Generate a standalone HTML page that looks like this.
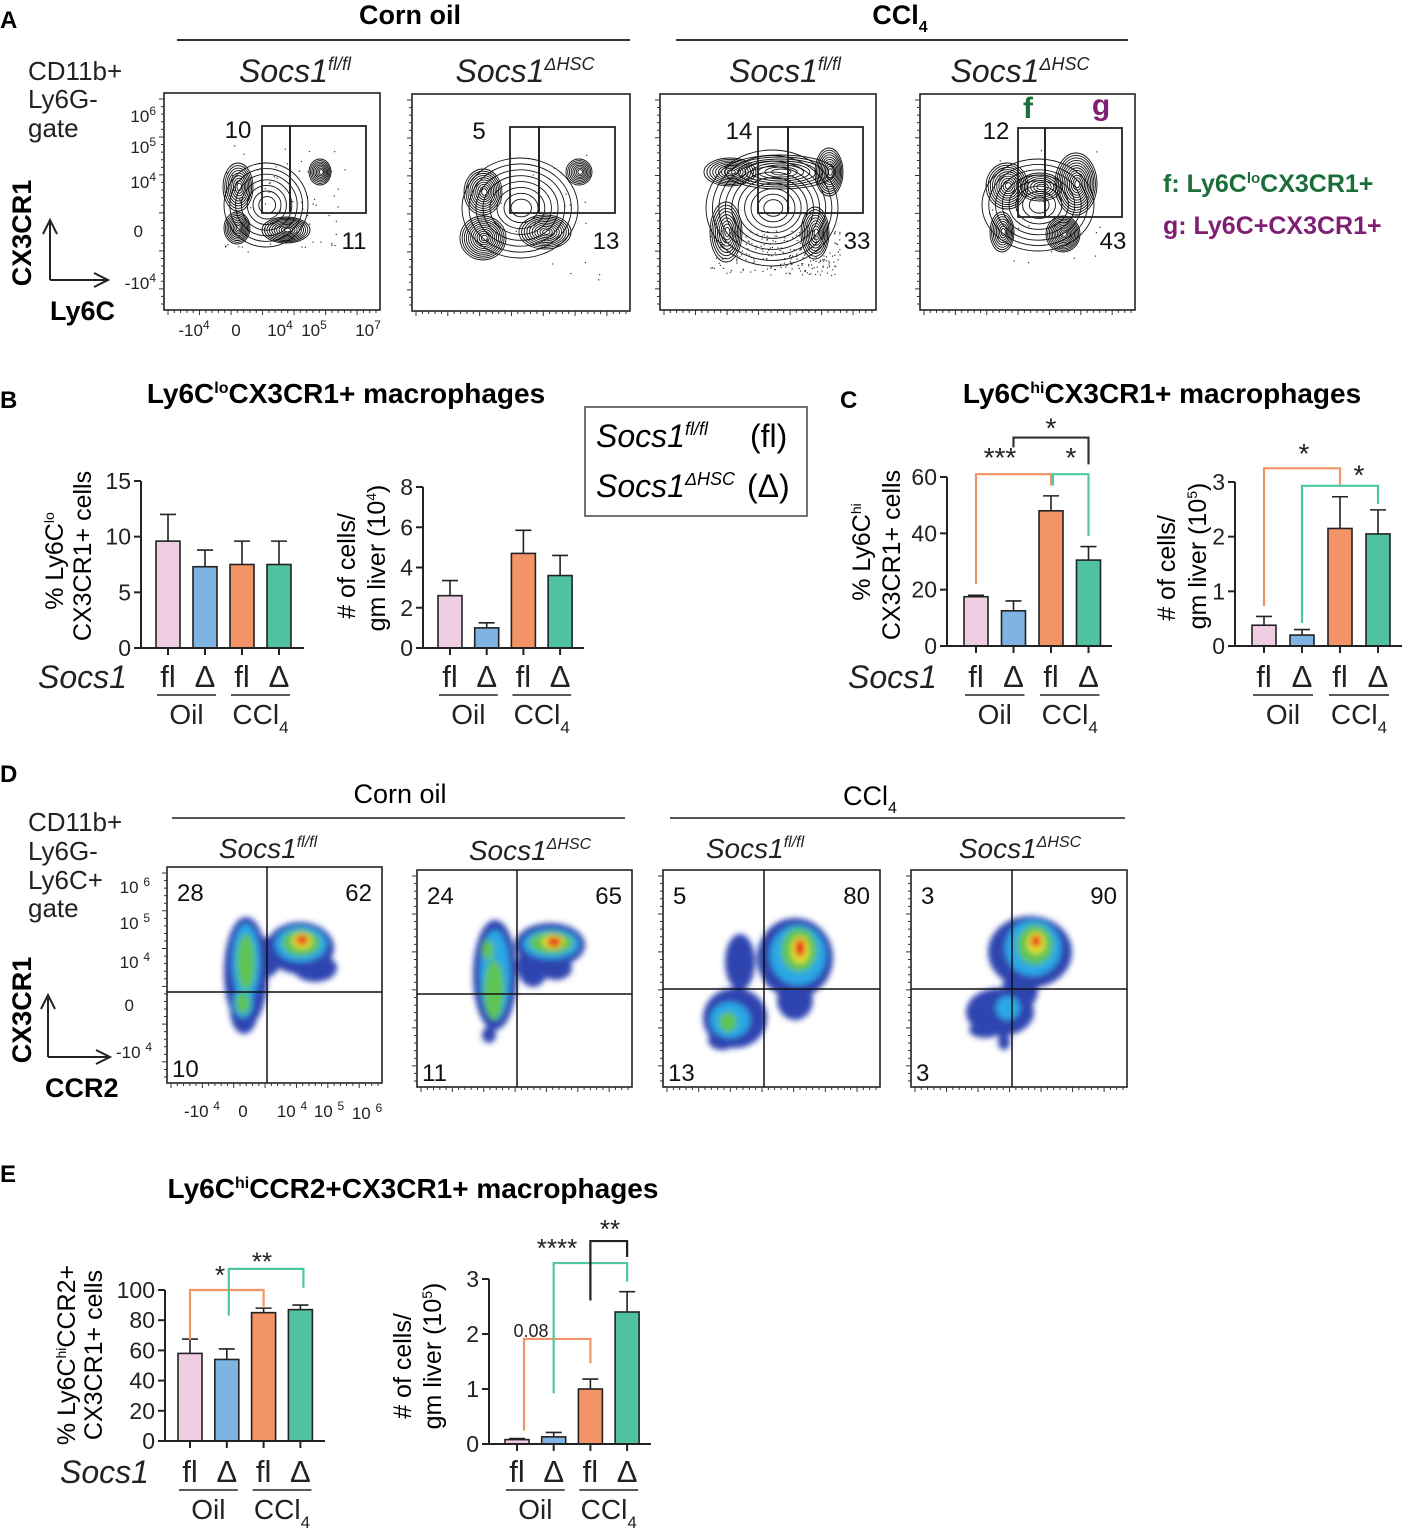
<!DOCTYPE html>
<html><head><meta charset="utf-8"><title>Socs1 figure</title>
<style>
html,body{margin:0;padding:0;background:#fff;}
svg{display:block;font-family:"Liberation Sans",Arial,sans-serif;}
.b{font-weight:bold;}
.i{font-style:italic;}
</style></head>
<body>
<svg id="fig" width="1417" height="1533" viewBox="0 0 1417 1533" xmlns="http://www.w3.org/2000/svg">
<defs>
<filter id="blur" x="-20%" y="-20%" width="140%" height="140%"><feGaussianBlur stdDeviation="3"/></filter>
<clipPath id="cd1"><rect x="167" y="867" width="215" height="216"/></clipPath>
<clipPath id="cd2"><rect x="417" y="870" width="215" height="217"/></clipPath>
<clipPath id="cd3"><rect x="663" y="870" width="217" height="217"/></clipPath>
<clipPath id="cd4"><rect x="911" y="870" width="216" height="217"/></clipPath>
</defs>

<!-- ============ PANEL A ============ -->
<text x="0" y="28" font-size="24" class="b">A</text>
<text x="410" y="24" font-size="27" class="b" text-anchor="middle">Corn oil</text>
<line x1="177" y1="40" x2="630" y2="40" stroke="#333" stroke-width="2"/>
<text x="900" y="24" font-size="27" class="b" text-anchor="middle">CCl<tspan font-size="16" dy="8">4</tspan></text>
<line x1="676" y1="40" x2="1128" y2="40" stroke="#333" stroke-width="2"/>
<g font-size="32" class="i" text-anchor="middle" fill="#222">
<text x="295" y="82">Socs1<tspan font-size="18" dy="-12">fl/fl</tspan></text>
<text x="525" y="82">Socs1<tspan font-size="18" dy="-12">ΔHSC</tspan></text>
<text x="785" y="82">Socs1<tspan font-size="18" dy="-12">fl/fl</tspan></text>
<text x="1020" y="82">Socs1<tspan font-size="18" dy="-12">ΔHSC</tspan></text>
</g>
<g font-size="26" fill="#222">
<text x="28" y="80">CD11b+</text>
<text x="28" y="108">Ly6G-</text>
<text x="28" y="137">gate</text>
</g>
<text transform="translate(31,233) rotate(-90)" font-size="27" class="b" text-anchor="middle">CX3CR1</text>
<path d="M50 280 V222 M43 234 L50 220 L57 234 M50 280 H106 M94 273 L108 280 L94 287" stroke="#222" stroke-width="2" fill="none"/>
<text x="50" y="320" font-size="27" class="b">Ly6C</text>
<g font-size="17" fill="#222" text-anchor="end">
<text x="156" y="122">10<tspan font-size="12" dy="-7">6</tspan></text>
<text x="156" y="153">10<tspan font-size="12" dy="-7">5</tspan></text>
<text x="156" y="188">10<tspan font-size="12" dy="-7">4</tspan></text>
<text x="143" y="237">0</text>
<text x="156" y="289">-10<tspan font-size="12" dy="-7">4</tspan></text>
</g>
<g font-size="17" fill="#222" text-anchor="middle">
<text x="194" y="336">-10<tspan font-size="12" dy="-7">4</tspan></text>
<text x="236" y="336">0</text>
<text x="280" y="336">10<tspan font-size="12" dy="-7">4</tspan></text>
<text x="314" y="336">10<tspan font-size="12" dy="-7">5</tspan></text>
<text x="368" y="336">10<tspan font-size="12" dy="-7">7</tspan></text>
</g>
<g id="flowA"></g>
<text x="1163" y="192" font-size="25" class="b" fill="#1b6e3a">f: Ly6C<tspan font-size="15" dy="-9">lo</tspan><tspan dy="9">CX3CR1+</tspan></text>
<text x="1163" y="234" font-size="25" class="b" fill="#7e1f74">g: Ly6C+CX3CR1+</text>

<!-- ============ PANEL B ============ -->
<text x="0" y="408" font-size="24" class="b">B</text>
<text x="346" y="403" font-size="28" class="b" text-anchor="middle">Ly6C<tspan font-size="16" dy="-10">lo</tspan><tspan dy="10">CX3CR1+ macrophages</tspan></text>
<text transform="translate(63,561) rotate(-90)" font-size="25" text-anchor="middle">% Ly6C<tspan font-size="14" dy="-9">lo</tspan></text>
<text transform="translate(91,556) rotate(-90)" font-size="25" text-anchor="middle">CX3CR1+ cells</text>
<text transform="translate(355,566) rotate(-90)" font-size="25" text-anchor="middle"># of cells/</text>
<text transform="translate(385,558) rotate(-90)" font-size="25" text-anchor="middle">gm liver (10<tspan font-size="14" dy="-9">4</tspan><tspan dy="9">)</tspan></text>
<text x="38" y="688" font-size="32" class="i" fill="#222">Socs1</text>
<g id="chartB1"></g>
<g id="chartB2"></g>
<rect x="585" y="407" width="222" height="109" fill="none" stroke="#444" stroke-width="1.5"/>
<text x="596" y="447" font-size="32" class="i">Socs1<tspan font-size="18" dy="-12">fl/fl</tspan></text>
<text x="750" y="447" font-size="32">(fl)</text>
<text x="596" y="497" font-size="32" class="i">Socs1<tspan font-size="18" dy="-12">ΔHSC</tspan></text>
<text x="747" y="497" font-size="32">(Δ)</text>

<!-- ============ PANEL C ============ -->
<text x="840" y="408" font-size="24" class="b">C</text>
<text x="1162" y="403" font-size="28" class="b" text-anchor="middle">Ly6C<tspan font-size="16" dy="-10">hi</tspan><tspan dy="10">CX3CR1+  macrophages</tspan></text>
<text transform="translate(870,552) rotate(-90)" font-size="25" text-anchor="middle">% Ly6C<tspan font-size="14" dy="-9">hi</tspan></text>
<text transform="translate(900,555) rotate(-90)" font-size="25" text-anchor="middle">CX3CR1+ cells</text>
<text transform="translate(1175,568) rotate(-90)" font-size="25" text-anchor="middle"># of cells/</text>
<text transform="translate(1206,556) rotate(-90)" font-size="25" text-anchor="middle">gm liver (10<tspan font-size="14" dy="-9">5</tspan><tspan dy="9">)</tspan></text>
<text x="848" y="688" font-size="32" class="i" fill="#222">Socs1</text>
<g id="chartC1"></g>
<g id="chartC2"></g>

<!-- ============ PANEL D ============ -->
<text x="0" y="782" font-size="24" class="b">D</text>
<text x="400" y="803" font-size="27" text-anchor="middle">Corn oil</text>
<line x1="172" y1="818" x2="625" y2="818" stroke="#555" stroke-width="2"/>
<text x="870" y="805" font-size="27" text-anchor="middle">CCl<tspan font-size="16" dy="8">4</tspan></text>
<line x1="670" y1="818" x2="1125" y2="818" stroke="#555" stroke-width="2"/>
<g font-size="28" class="i" text-anchor="middle" fill="#222">
<text x="268" y="858">Socs1<tspan font-size="16" dy="-11">fl/fl</tspan></text>
<text x="530" y="860">Socs1<tspan font-size="16" dy="-11">ΔHSC</tspan></text>
<text x="755" y="858">Socs1<tspan font-size="16" dy="-11">fl/fl</tspan></text>
<text x="1020" y="858">Socs1<tspan font-size="16" dy="-11">ΔHSC</tspan></text>
</g>
<g font-size="26" fill="#222">
<text x="28" y="831">CD11b+</text>
<text x="28" y="860">Ly6G-</text>
<text x="28" y="889">Ly6C+</text>
<text x="28" y="917">gate</text>
</g>
<text transform="translate(31,1010) rotate(-90)" font-size="27" class="b" text-anchor="middle">CX3CR1</text>
<path d="M48 1057 V997 M41 1009 L48 995 L55 1009 M48 1057 H108 M96 1050 L110 1057 L96 1064" stroke="#222" stroke-width="2" fill="none"/>
<text x="45" y="1097" font-size="27" class="b">CCR2</text>
<g font-size="17" fill="#222" text-anchor="end">
<text x="150" y="893">10 <tspan font-size="12" dy="-7">6</tspan></text>
<text x="150" y="929">10 <tspan font-size="12" dy="-7">5</tspan></text>
<text x="150" y="968">10 <tspan font-size="12" dy="-7">4</tspan></text>
<text x="134" y="1011">0</text>
<text x="152" y="1058">-10 <tspan font-size="12" dy="-7">4</tspan></text>
</g>
<g font-size="17" fill="#222" text-anchor="middle">
<text x="202" y="1117">-10 <tspan font-size="12" dy="-7">4</tspan></text>
<text x="243" y="1117">0</text>
<text x="292" y="1117">10 <tspan font-size="12" dy="-7">4</tspan></text>
<text x="329" y="1117">10 <tspan font-size="12" dy="-7">5</tspan></text>
<text x="367" y="1119">10 <tspan font-size="12" dy="-7">6</tspan></text>
</g>
<g id="flowD"></g>

<!-- ============ PANEL E ============ -->
<text x="0" y="1182" font-size="24" class="b">E</text>
<text x="413" y="1198" font-size="28" class="b" text-anchor="middle">Ly6C<tspan font-size="16" dy="-10">hi</tspan><tspan dy="10">CCR2+CX3CR1+  macrophages</tspan></text>
<text transform="translate(75,1355) rotate(-90)" font-size="25" text-anchor="middle">% Ly6C<tspan font-size="14" dy="-9">hi</tspan><tspan dy="9">CCR2+</tspan></text>
<text transform="translate(102,1355) rotate(-90)" font-size="25" text-anchor="middle">CX3CR1+ cells</text>
<text transform="translate(411,1366) rotate(-90)" font-size="25" text-anchor="middle"># of cells/</text>
<text transform="translate(441,1356) rotate(-90)" font-size="25" text-anchor="middle">gm liver (10<tspan font-size="14" dy="-9">5</tspan><tspan dy="9">)</tspan></text>
<text x="60" y="1483" font-size="32" class="i" fill="#222">Socs1</text>
<g id="chartE1"></g>
<g id="chartE2"></g>
</svg>

<script>
// ---------- chart data ----------
const groups = ["fl", "Δ", "fl", "Δ"];
const treatments = ["Oil", "CCl4"];
const barColors = ["#efcde2", "#7fb3e2", "#f39466", "#4fc3a1"];

const b1Values = [9.6, 7.3, 7.5, 7.5];
const b1Errors = [2.4, 1.5, 2.1, 2.1];
const b1Ticks = [0, 5, 10, 15];

const b2Values = [2.6, 1.0, 4.7, 3.6];
const b2Errors = [0.75, 0.25, 1.15, 1.0];
const b2Ticks = [0, 2, 4, 6, 8];

const c1Values = [17.5, 12.5, 48, 30.5];
const c1Errors = [0.5, 3.5, 5.3, 4.8];
const c1Ticks = [0, 20, 40, 60];

const c2Values = [0.38, 0.2, 2.15, 2.05];
const c2Errors = [0.16, 0.1, 0.58, 0.44];
const c2Ticks = [0, 1, 2, 3];

const e1Values = [58, 54, 85, 87];
const e1Errors = [9.5, 7, 3, 3];
const e1Ticks = [0, 20, 40, 60, 80, 100];

const e2Values = [0.08, 0.13, 1.0, 2.4];
const e2Errors = [0.02, 0.08, 0.18, 0.37];
const e2Ticks = [0, 1, 2, 3];

const NS = "http://www.w3.org/2000/svg";
function mk(parent, tag, attrs, text) {
  const el = document.createElementNS(NS, tag);
  for (const k in attrs) el.setAttribute(k, attrs[k]);
  if (text !== undefined) el.textContent = text;
  parent.appendChild(el);
  return el;
}

function barChart(gid, prefix, cfg, values, errors, ticks) {
  const g = document.getElementById(gid);
  
  
  const sy = v => cfg.y0 - (v / cfg.max) * (cfg.y0 - cfg.yTop);
  const cx = i => cfg.axisX + cfg.off + i * cfg.step;
  const bw = 24;
  const ya = mk(g, 'line', {x1: cfg.axisX, y1: sy(cfg.max), x2: cfg.axisX, y2: cfg.y0, stroke: '#222', 'stroke-width': 2});
  
  
  ticks.forEach(t => {
    const tl = mk(g, 'line', {x1: cfg.axisX - 7, y1: sy(t), x2: cfg.axisX, y2: sy(t), stroke: '#222', 'stroke-width': 2});
    
    
    const tt = mk(g, 'text', {x: cfg.axisX - 10, y: sy(t) + 8, 'font-size': 23, 'text-anchor': 'end', fill: '#222'}, String(t));
    
    
  });
  values.forEach((v, i) => {
    const x = cx(i);
    const eb = mk(g, 'path', {d: `M${x} ${sy(v)} V${sy(v + errors[i])} M${x - 8} ${sy(v + errors[i])} H${x + 8}`, stroke: '#222', 'stroke-width': 1.6, fill: 'none'});
    
    
    const r = mk(g, 'rect', {x: x - bw / 2, y: sy(v), width: bw, height: cfg.y0 - sy(v), fill: barColors[i], stroke: '#222', 'stroke-width': 1.6});
    
    
    const xt = mk(g, 'line', {x1: x, y1: cfg.y0, x2: x, y2: cfg.y0 + 7, stroke: '#222', 'stroke-width': 2});
    
    
    const lb = mk(g, 'text', {x: x, y: cfg.labelY, 'font-size': 31, 'text-anchor': 'middle', fill: '#222'}, groups[i]);
    
    
  });
  const xa = mk(g, 'line', {x1: cfg.axisX, y1: cfg.y0, x2: cfg.xEnd, y2: cfg.y0, stroke: '#222', 'stroke-width': 2});
  
  
  treatments.forEach((t, j) => {
    const a = cx(2 * j) - 11, b = cx(2 * j + 1) + 11;
    const ul = mk(g, 'line', {x1: a, y1: cfg.labelY + 8, x2: b, y2: cfg.labelY + 8, stroke: '#222', 'stroke-width': 1.5});
    
    
    const tx = mk(g, 'text', {x: (a + b) / 2, y: cfg.labelY + 37, 'font-size': 28, 'text-anchor': 'middle', fill: '#222'});
    
    
    if (t === 'CCl4') {
      tx.textContent = 'CCl';
      mk(tx, 'tspan', {'font-size': 17, dy: 9}, '4');
    } else tx.textContent = t;
  });
  return {sy, cx, g};
}

function bracket(ch, prefix, color, i1, v1, vTop, i2, v2, dx1, dx2) {
  const x1 = ch.cx(i1) + (dx1 || 0), x2 = ch.cx(i2) + (dx2 || 0);
  const p = mk(ch.g, 'path', {d: `M${x1} ${ch.sy(v1)} V${ch.sy(vTop)} H${x2} V${ch.sy(v2)}`, stroke: color, 'stroke-width': 2.2, fill: 'none'});
  
  
}
function star(ch, prefix, txt, x, v, size) {
  const t = mk(ch.g, 'text', {x: x, y: ch.sy(v), 'font-size': size || 26, 'text-anchor': 'middle', fill: '#222'}, txt);
  
  
}

const ORG = "#f39466", TEAL = "#4fc7a3";

const B1 = barChart('chartB1', 'b1', {axisX: 141, y0: 648, yTop: 481, max: 15, off: 27, step: 37, xEnd: 304, labelY: 687}, b1Values, b1Errors, b1Ticks);
const B2 = barChart('chartB2', 'b2', {axisX: 423, y0: 648, yTop: 487, max: 8, off: 27, step: 36.7, xEnd: 584, labelY: 687}, b2Values, b2Errors, b2Ticks);

const C1 = barChart('chartC1', 'c1', {axisX: 947, y0: 646, yTop: 477, max: 60, off: 29, step: 37.5, xEnd: 1112, labelY: 687}, c1Values, c1Errors, c1Ticks);
bracket(C1, 'c1-sig-bracket-orange', ORG, 0, 22, 61, 2, 57);
bracket(C1, 'c1-sig-bracket-teal', TEAL, 2, 57, 61, 3, 39, 2, 0);
bracket(C1, 'c1-sig-bracket-black', '#333', 1, 70.5, 74, 3, 64.5);
star(C1, 'c1-sig-label-1', '***', 1000, 63.5, 28);
star(C1, 'c1-sig-label-2', '*', 1071, 63.5, 28);
star(C1, 'c1-sig-label-3', '*', 1051, 74, 28);

const C2 = barChart('chartC2', 'c2', {axisX: 1235, y0: 646, yTop: 482, max: 3, off: 29, step: 38, xEnd: 1402, labelY: 687}, c2Values, c2Errors, c2Ticks);
bracket(C2, 'c2-sig-bracket-orange', ORG, 0, 0.73, 3.25, 2, 2.93);
bracket(C2, 'c2-sig-bracket-teal', TEAL, 1, 0.42, 2.93, 3, 2.6);
star(C2, 'c2-sig-label-1', '*', 1304, 3.35, 28);
star(C2, 'c2-sig-label-2', '*', 1359, 2.95, 28);

const E1 = barChart('chartE1', 'e1', {axisX: 165, y0: 1441, yTop: 1290, max: 100, off: 25, step: 36.8, xEnd: 325, labelY: 1482}, e1Values, e1Errors, e1Ticks);
bracket(E1, 'e1-sig-bracket-orange', ORG, 0, 67, 100, 2, 89);
bracket(E1, 'e1-sig-bracket-teal', TEAL, 1, 83, 114, 3, 101.5, 2, 3);
star(E1, 'e1-sig-label-1', '*', 220, 104, 26);
star(E1, 'e1-sig-label-2', '**', 262, 113, 26);

const E2 = barChart('chartE2', 'e2', {axisX: 489, y0: 1444, yTop: 1279, max: 3, off: 28, step: 36.7, xEnd: 651, labelY: 1482}, e2Values, e2Errors, e2Ticks);
bracket(E2, 'e2-sig-bracket-orange', ORG, 0, 0.24, 1.91, 2, 1.47, 7, 0);
bracket(E2, 'e2-sig-bracket-teal', TEAL, 1, 0.92, 3.29, 3, 2.95, 0, 0);
bracket(E2, 'e2-sig-bracket-black', '#222', 2, 2.61, 3.69, 3, 3.4);
star(E2, 'e2-sig-label-008', '0.08', 531, 1.95, 18);
star(E2, 'e2-sig-label-1', '****', 557, 3.4, 26);
star(E2, 'e2-sig-label-2', '**', 610, 3.75, 26);

// ---------- flow cytometry contour plots (panel A) ----------
const flowA = document.getElementById('flowA');


let seed = 7;
function rnd() { seed = (seed * 16807) % 2147483647; return seed / 2147483647; }

function plotBox(parent, prefix, x, y, w, h) {
  const r = mk(parent, 'rect', {x, y, width: w, height: h, fill: '#fff', stroke: '#222', 'stroke-width': 1.6});
  
  
  let d = '';
  for (let k = 0; k < 28; k++) { const yy = y + 6 + k * (h - 12) / 27; d += `M${x - (k % 5 === 0 ? 5 : 3)} ${yy} H${x}`; }
  for (let k = 0; k < 34; k++) { const xx = x + 4 + k * (w - 8) / 33; d += `M${xx} ${y + h} V${y + h + (k % 5 === 0 ? 5 : 3)}`; }
  const t = mk(parent, 'path', {d, stroke: '#333', 'stroke-width': 1, fill: 'none'});
  
  
}

function contours(g, cx, cy, rx, ry, n, rot) {
  for (let k = 0; k < n; k++) {
    const s = 1 - k / (n + 0.5);
    mk(g, 'ellipse', {cx: cx + (1 - s) * 1.5, cy: cy, rx: rx * s, ry: ry * s, transform: `rotate(${rot || 0} ${cx} ${cy})`, fill: 'none', stroke: '#111', 'stroke-width': 0.9});
  }
}
function dots(g, x0, y0, w, h, n) {
  for (let k = 0; k < n; k++) mk(g, 'rect', {x: x0 + rnd() * w, y: y0 + rnd() * h, width: 1.2, height: 1.2, fill: '#333'});
}

const aPlots = [
  {x: 164, y: 93, w: 216, h: 217, g1: [262, 290, 366, 126, 213], lbl: ["10", 238, 138, "11", 354, 249],
   blobs: [[266, 205, 42, 42, 7, 0], [238, 187, 15, 24, 9, 0], [237, 228, 13, 16, 9, 0], [286, 230, 24, 13, 10, 0], [320, 172, 11, 13, 8, 0]], dots: [[225, 145, 120, 110, 70]]},
  {x: 412, y: 94, w: 218, h: 217, g1: [510, 539, 615, 127, 213], lbl: ["5", 479, 139, "13", 606, 249],
   blobs: [[520, 208, 58, 50, 8, 0], [483, 192, 19, 23, 10, 0], [483, 238, 23, 22, 11, 0], [545, 232, 26, 17, 10, 0], [579, 172, 13, 13, 8, 0]], dots: [[470, 150, 130, 130, 20]]},
  {x: 660, y: 94, w: 216, h: 216, g1: [758, 788, 863, 127, 213], lbl: ["14", 739, 139, "33", 857, 249],
   blobs: [[772, 208, 66, 58, 10, 0], [780, 172, 55, 17, 8, 0], [730, 172, 26, 14, 9, 0], [829, 172, 14, 24, 10, 0], [726, 232, 16, 30, 9, 0], [815, 233, 14, 26, 9, 0]], dots: [[710, 230, 130, 45, 260]]},
  {x: 920, y: 94, w: 215, h: 216, g1: [1018, 1045, 1122, 128, 217], lbl: ["12", 996, 139, "43", 1113, 249],
   blobs: [[1038, 205, 56, 46, 8, 0], [1007, 186, 21, 23, 10, 0], [1076, 184, 21, 31, 12, 0], [1063, 234, 17, 18, 11, 0], [1002, 232, 12, 20, 8, 0], [1040, 187, 22, 14, 7, 0]], dots: [[985, 150, 120, 115, 30]]}
];
aPlots.forEach((p, i) => {
  const pref = 'a-plot-' + (i + 1);
  const g = mk(flowA, 'g', {});
  
  
  plotBox(g, pref, p.x, p.y, p.w, p.h);
  const cg = mk(g, 'g', {});
  
  
  p.dots.forEach(d => dots(cg, d[0], d[1], d[2], d[3], d[4]));
  p.blobs.forEach(b => contours(cg, b[0], b[1], b[2], b[3], b[4], b[5]));
  const [gx1, gx2, gx3, gy1, gy2] = p.g1;
  const gf = mk(g, 'rect', {x: gx1, y: gy1, width: gx2 - gx1, height: gy2 - gy1, fill: 'none', stroke: '#222', 'stroke-width': 1.8});
  
  
  const gg = mk(g, 'rect', {x: gx2, y: gy1, width: gx3 - gx2, height: gy2 - gy1, fill: 'none', stroke: '#222', 'stroke-width': 1.8});
  
  
  const t1 = mk(g, 'text', {x: p.lbl[1], y: p.lbl[2], 'font-size': 24, 'text-anchor': 'middle', fill: '#111'}, p.lbl[0]);
  
  
  const t2 = mk(g, 'text', {x: p.lbl[4], y: p.lbl[5], 'font-size': 24, 'text-anchor': 'middle', fill: '#111'}, p.lbl[3]);
  
  
});
const fL = mk(flowA, 'text', {x: 1028, y: 118, 'font-size': 30, 'font-weight': 'bold', 'text-anchor': 'middle', fill: '#1b6e3a'}, 'f');


const gL = mk(flowA, 'text', {x: 1101, y: 115, 'font-size': 30, 'font-weight': 'bold', 'text-anchor': 'middle', fill: '#7e1f74'}, 'g');



// ---------- density plots (panel D) ----------
const flowD = document.getElementById('flowD');


const dens = ["#2f45b0", "#2aa7e6", "#5fc452", "#e6e12c", "#e8241c"];
const dPlots = [
  {x: 167, y: 867, w: 215, h: 216, vx: 267, hy: 992, q: ["28", "62", "10"],
   shapes: [[0, 246, 972, 22, 55], [0, 300, 948, 34, 26], [0, 267, 957, 14, 20], [0, 244, 1010, 14, 24], [0, 315, 968, 22, 14],
            [1, 246, 962, 14, 38], [1, 243, 1002, 10, 16], [1, 301, 944, 26, 18],
            [2, 246, 962, 9, 28], [2, 243, 1003, 7, 11], [2, 301, 943, 19, 13],
            [3, 302, 941, 10, 8], [4, 302, 940, 6, 5]]},
  {x: 417, y: 870, w: 215, h: 217, vx: 517, hy: 994, q: ["24", "65", "11"],
   shapes: [[0, 495, 975, 22, 55], [0, 550, 945, 35, 22], [0, 533, 965, 16, 22], [0, 489, 1035, 7, 8], [0, 556, 968, 16, 12],
            [1, 495, 975, 15, 45], [1, 551, 944, 28, 15],
            [2, 494, 990, 10, 30], [2, 488, 950, 6, 10], [2, 551, 943, 22, 11],
            [3, 553, 942, 11, 7], [4, 554, 942, 7, 5]]},
  {x: 663, y: 870, w: 217, h: 217, vx: 764, hy: 989, q: ["5", "80", "13"],
   shapes: [[0, 795, 958, 38, 40], [0, 735, 1018, 32, 30], [0, 740, 962, 15, 28], [0, 795, 1000, 18, 20], [0, 722, 1040, 14, 10],
            [1, 798, 955, 28, 30], [1, 730, 1020, 20, 18],
            [2, 799, 950, 18, 22], [2, 728, 1022, 9, 10],
            [3, 800, 950, 9, 14], [4, 800, 948, 5, 9]]},
  {x: 911, y: 870, w: 216, h: 217, vx: 1012, hy: 989, q: ["3", "90", "3"],
   shapes: [[0, 1030, 952, 42, 36], [0, 1000, 1012, 34, 24], [0, 1020, 990, 18, 20], [0, 985, 1030, 16, 8], [0, 1004, 1042, 6, 8],
            [1, 1033, 948, 28, 28], [1, 1008, 1008, 12, 12],
            [2, 1035, 945, 18, 20], [3, 1036, 943, 9, 11], [4, 1036, 941, 5, 6]]}
];
dPlots.forEach((p, i) => {
  const pref = 'd-plot-' + (i + 1);
  const g = mk(flowD, 'g', {});
  
  
  plotBox(g, pref, p.x, p.y, p.w, p.h);
  const cg = mk(g, 'g', {'clip-path': `url(#cd${i + 1})`});
  
  
  const fg = mk(cg, 'g', {filter: 'url(#blur)'});
  p.shapes.forEach(s => mk(fg, 'ellipse', {cx: s[1], cy: s[2], rx: s[3], ry: s[4], fill: dens[s[0]]}));
  const ql = mk(g, 'path', {d: `M${p.vx} ${p.y} V${p.y + p.h} M${p.x} ${p.hy} H${p.x + p.w}`, stroke: '#111', 'stroke-width': 1.5, fill: 'none'});
  
  
  const q1 = mk(g, 'text', {x: p.x + 10, y: p.y + 34, 'font-size': 24, fill: '#111'}, p.q[0]);
  
  
  const q2 = mk(g, 'text', {x: p.x + p.w - 10, y: p.y + 34, 'font-size': 24, 'text-anchor': 'end', fill: '#111'}, p.q[1]);
  
  
  const q3 = mk(g, 'text', {x: p.x + 5, y: p.y + p.h - 6, 'font-size': 24, fill: '#111'}, p.q[2]);
  
  
});
</script>
</body></html>
